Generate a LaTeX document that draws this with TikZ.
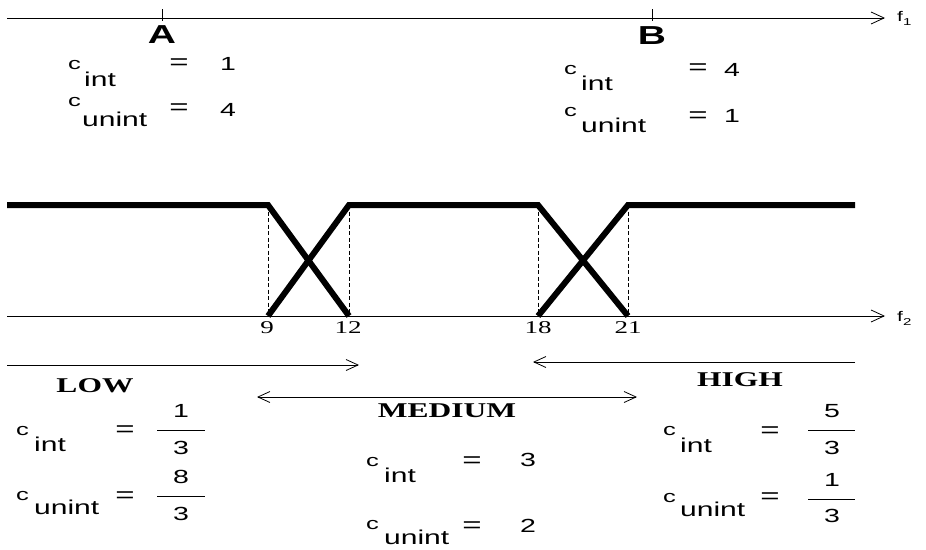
\documentclass[tikz,border=0pt]{standalone}
\usepackage{fontspec}
\setmainfont{Liberation Sans}
\newfontfamily\timesfont{Liberation Serif}
\usetikzlibrary{arrows.meta}
\newcommand{\wtext}[1]{\scalebox{1.5}[1]{#1}}

\begin{document}
\begin{tikzpicture}[x=1pt,y=-1pt,
axis/.style={-{Straight Barb[length=13pt,width=12pt]},line width=0.8pt},
span/.style={-{Straight Barb[length=12pt,width=11pt]},line width=0.8pt},
spanboth/.style={{Straight Barb[length=12pt,width=11pt]}-{Straight Barb[length=12pt,width=11pt]},line width=0.8pt},
memb/.style={line width=6pt},
guide/.style={dash pattern=on 4pt off 2.5pt,line width=0.8pt},
point/.style={font=\fontsize{26}{28}\selectfont\bfseries,inner sep=0pt,anchor=base},
axlabel/.style={font=\fontsize{14}{15}\selectfont,inner sep=0pt,anchor=base west},
csym/.style={font=\fontsize{17}{18}\selectfont,inner sep=0pt,anchor=base west},
csub/.style={font=\fontsize{20}{22}\selectfont,inner sep=0pt,anchor=base west},
equal/.style={font=\fontsize{22}{24}\selectfont,inner sep=0pt},
val/.style={font=\fontsize{19}{20}\selectfont,inner sep=0pt},
fracbar/.style={line width=1pt},
ticklabel/.style={font=\timesfont\fontsize{18}{19}\selectfont,inner sep=0pt,anchor=north},
setname/.style={font=\timesfont\fontsize{21}{22}\selectfont\bfseries,inner sep=0pt}
]
\useasboundingbox (0,0) rectangle (926,549);

% f1 axis with the two points
\coordinate (f1s) at (7,18);
\coordinate (f1e) at (885,18);
\draw[axis] (f1s) -- (f1e);
\node[axlabel] (f1) at (897,21) {\wtext{f\raisebox{-4pt}{\fontsize{10}{10}\selectfont 1}}};

\draw[line width=0.8pt] (162,9) -- (162,21);
\draw[line width=0.8pt] (652,9) -- (652,21);
\node[point] (A) at (162,43) {\wtext{A}};
\node[point] (B) at (652,44) {\wtext{B}};

\node[csym] (Ac1) at (68,69) {\wtext{c}};
\node[csub] (Ai1) at (84,86) {\wtext{int}};
\node[equal] (Ae1) at (179,64) {\wtext{=}};
\node[val] (Av1) at (228,64) {\wtext{1}};
\node[csym] (Ac2) at (68,106) {\wtext{c}};
\node[csub] (Ai2) at (82,126) {\wtext{unint}};
\node[equal] (Ae2) at (179,109) {\wtext{=}};
\node[val] (Av2) at (228,110) {\wtext{4}};

\node[csym] (Bc1) at (564,74) {\wtext{c}};
\node[csub] (Bi1) at (581,90) {\wtext{int}};
\node[equal] (Be1) at (698,69) {\wtext{=}};
\node[val] (Bv1) at (732,70) {\wtext{4}};
\node[csym] (Bc2) at (564,116) {\wtext{c}};
\node[csub] (Bi2) at (581,132) {\wtext{unint}};
\node[equal] (Be2) at (698,117) {\wtext{=}};
\node[val] (Bv2) at (732,116) {\wtext{1}};

% membership functions
\coordinate (l0) at (7,205);
\coordinate (t9) at (268,205);
\coordinate (b9) at (268,316);
\coordinate (t12) at (349,205);
\coordinate (b12) at (349,316);
\coordinate (t18) at (538,205);
\coordinate (b18) at (538,316);
\coordinate (t21) at (628,205);
\coordinate (b21) at (628,316);
\coordinate (r0) at (855,205);

\draw[guide] (t9) -- (b9);
\draw[guide] (t12) -- (b12);
\draw[guide] (t18) -- (b18);
\draw[guide] (t21) -- (b21);

\draw[memb] (l0) -- (t9) -- (b12);
\draw[memb] (b9) -- (t12) -- (t18) -- (b21);
\draw[memb] (b18) -- (t21) -- (r0);

% f2 axis
\coordinate (f2s) at (7,316);
\coordinate (f2e) at (885,316);
\draw[axis] (f2s) -- (f2e);
\node[axlabel] (f2) at (897,321) {\wtext{f\raisebox{-4pt}{\fontsize{10}{10}\selectfont 2}}};

\node[ticklabel] (n9) at (267,321) {\wtext{9}};
\node[ticklabel] (n12) at (348,321) {\wtext{12}};
\node[ticklabel] (n18) at (538,321) {\wtext{18}};
\node[ticklabel] (n21) at (628,321) {\wtext{21}};

% ranges
\coordinate (lowS) at (7,365);
\coordinate (lowE) at (359,365);
\coordinate (highS) at (855,362);
\coordinate (highE) at (533,362);
\coordinate (medS) at (257,397);
\coordinate (medE) at (637,397);
\draw[span] (lowS) -- (lowE);
\draw[span] (highS) -- (highE);
\draw[spanboth] (medS) -- (medE);

\node[setname] (low) at (95,386) {\wtext{LOW}};
\node[setname] (medium) at (447,411) {\wtext{MEDIUM}};
\node[setname] (high) at (740,380) {\wtext{HIGH}};

% LOW
\node[csym] (Lc1) at (16,435) {\wtext{c}};
\node[csub] (Li1) at (34,451) {\wtext{int}};
\node[equal] (Le1) at (125,431) {\wtext{=}};
\node[val] (Ln1) at (181,411) {\wtext{1}};
\draw[fracbar] (157,430) -- (205,430);
\node[val] (Ld1) at (181,448) {\wtext{3}};
\node[csym] (Lc2) at (16,500) {\wtext{c}};
\node[csub] (Li2) at (34,514) {\wtext{unint}};
\node[equal] (Le2) at (125,497) {\wtext{=}};
\node[val] (Ln2) at (181,477) {\wtext{8}};
\draw[fracbar] (157,496) -- (205,496);
\node[val] (Ld2) at (181,514) {\wtext{3}};

% MEDIUM
\node[csym] (Mc1) at (366,466) {\wtext{c}};
\node[csub] (Mi1) at (384,482) {\wtext{int}};
\node[equal] (Me1) at (472,462) {\wtext{=}};
\node[val] (Mv1) at (528,460) {\wtext{3}};
\node[csym] (Mc2) at (366,529) {\wtext{c}};
\node[csub] (Mi2) at (384,544) {\wtext{unint}};
\node[equal] (Me2) at (472,527) {\wtext{=}};
\node[val] (Mv2) at (528,526) {\wtext{2}};

% HIGH
\node[csym] (Hc1) at (663,435) {\wtext{c}};
\node[csub] (Hi1) at (680,452) {\wtext{int}};
\node[equal] (He1) at (770,432) {\wtext{=}};
\node[val] (Hn1) at (832,411) {\wtext{5}};
\draw[fracbar] (808,430) -- (855,430);
\node[val] (Hd1) at (832,448) {\wtext{3}};
\node[csym] (Hc2) at (663,502) {\wtext{c}};
\node[csub] (Hi2) at (680,516) {\wtext{unint}};
\node[equal] (He2) at (770,498) {\wtext{=}};
\node[val] (Hn2) at (832,480) {\wtext{1}};
\draw[fracbar] (808,499) -- (855,499);
\node[val] (Hd2) at (832,516) {\wtext{3}};

\end{tikzpicture}
\end{document}
